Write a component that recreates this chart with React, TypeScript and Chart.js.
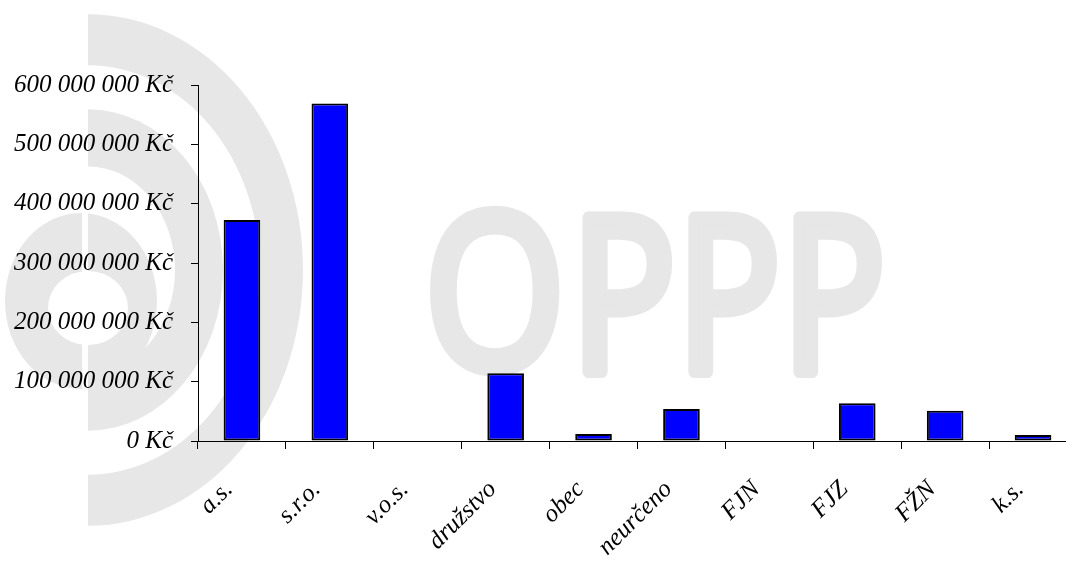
import React, { useEffect, useRef } from "react";
import { Chart, registerables } from "chart.js";

Chart.register(...registerables);

// ---- data ----
const categories = ["a.s.", "s.r.o.", "v.o.s.", "družstvo", "obec", "neurčeno", "FJN", "FJZ", "FŽN", "k.s."];
const values = [372500000, 569000000, 0, 114000000, 11800000, 54000000, 0, 63500000, 51000000, 10000000];
const yMin = 0;
const yMax = 600000000;
const yStep = 100000000;
const currency = "Kč";

// ---- decorative watermark (background picture of the reference) ----
const watermarkLetters = ["O", "P", "P", "P"];
const watermarkBoxes = [
  [430, 207, 560, 377],
  [582, 211, 672, 377],
  [688, 211, 777, 377],
  [793, 211, 882, 377],
];
const WM = "#e7e7e7";

const fmt = (v: number) =>
  String(Math.round(v)).replace(/\B(?=(\d{3})+(?!\d))/g, " ") + " " + currency;

const watermarkPlugin = {
  id: "watermark",
  beforeDraw(chart: any) {
    const ctx: CanvasRenderingContext2D = chart.ctx;
    ctx.save();
    ctx.fillStyle = WM;
    // inner ring
    ctx.beginPath();
    ctx.ellipse(81, 301, 76, 88, 0, 0, Math.PI * 2);
    ctx.moveTo(88 + 40, 308);
    ctx.ellipse(88, 308, 40, 37, 0, 0, Math.PI * 2);
    ctx.fill("evenodd");
    ctx.fillStyle = "#ffffff";
    ctx.fillRect(82, 205, 6, 200);
    ctx.fillStyle = WM;
    // arcs
    const arcs = [
      [87, 135],
      [172, 215],
    ];
    for (const [ri, ro] of arcs) {
      ctx.save();
      ctx.translate(88, 270);
      ctx.scale(1, 1.19);
      ctx.beginPath();
      ctx.arc(0, 0, ro, -Math.PI / 2, Math.PI / 2);
      ctx.arc(0, 0, ri, Math.PI / 2, -Math.PI / 2, true);
      ctx.closePath();
      ctx.fill();
      ctx.restore();
    }
    // letters
    const L = 12;
    ctx.font = "400 200px 'Open Sans', 'DejaVu Sans', sans-serif";
    ctx.textAlign = "left";
    ctx.textBaseline = "alphabetic";
    ctx.strokeStyle = WM;
    ctx.lineWidth = L;
    ctx.lineJoin = "round";
    watermarkLetters.forEach((ch, i) => {
      const m = ctx.measureText(ch);
      const w = m.actualBoundingBoxLeft + m.actualBoundingBoxRight + L;
      const h = m.actualBoundingBoxAscent + m.actualBoundingBoxDescent + L;
      const [x0, y0, x1, y1] = watermarkBoxes[i];
      ctx.save();
      ctx.translate(x0, y0);
      ctx.scale((x1 - x0) / w, (y1 - y0) / h);
      const tx = m.actualBoundingBoxLeft + L / 2;
      const ty = m.actualBoundingBoxAscent + L / 2;
      ctx.fillText(ch, tx, ty);
      ctx.strokeText(ch, tx, ty);
      ctx.restore();
    });
    ctx.restore();
  },
};

const labelFont = {
  family: "'Liberation Serif', 'Times New Roman', serif",
  size: 25,
  style: "italic" as const,
};

export default function App() {
  const ref = useRef<HTMLCanvasElement>(null);

  useEffect(() => {
    if (!ref.current) return;
    const chart = new Chart(ref.current, {
      type: "bar",
      data: {
        labels: categories,
        datasets: [
          {
            data: values,
            backgroundColor: "#0000ff",
            borderColor: "#000000",
            borderWidth: 2,
            borderSkipped: false,
            barPercentage: 1 / 2.4,
            categoryPercentage: 1,
          },
        ],
      },
      options: {
        animation: false,
        responsive: false,
        layout: { padding: { left: 0, right: 13, top: 85, bottom: 0 } },
        plugins: { legend: { display: false }, tooltip: { enabled: false } },
        scales: {
          x: {
            grid: {
              display: true,
              drawOnChartArea: false,
              drawTicks: true,
              tickLength: 8,
              color: "#000000",
              offset: true,
            },
            border: { display: true, color: "#000000", width: 1 },
            ticks: {
              autoSkip: false,
              minRotation: 45,
              maxRotation: 45,
              padding: 26,
              labelOffset: -13,
              color: "#000000",
              font: labelFont,
            },
            afterFit: (s: any) => {
              s.height = 124;
            },
          },
          y: {
            min: yMin,
            max: yMax,
            grid: {
              drawOnChartArea: false,
              drawTicks: true,
              tickLength: 7,
              color: "#000000",
            },
            border: { display: true, color: "#000000", width: 1 },
            ticks: {
              stepSize: yStep,
              padding: 18,
              color: "#000000",
              font: labelFont,
              callback: (v: any) => fmt(Number(v)),
            },
            afterFit: (s: any) => {
              s.width = 198;
            },
          },
        },
      },
      plugins: [watermarkPlugin],
    });
    return () => chart.destroy();
  }, []);

  return (
    <div
      style={{
        position: "absolute",
        left: 0,
        top: 0,
        width: 1066,
        height: 565,
        overflow: "hidden",
        background: "#ffffff",
      }}
    >
      <canvas ref={ref} width={1090} height={565} style={{ display: "block", width: 1090, height: 565 }} />
    </div>
  );
}
